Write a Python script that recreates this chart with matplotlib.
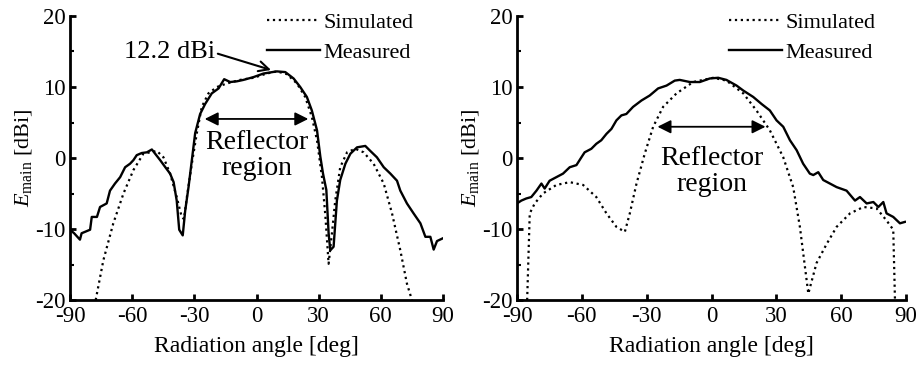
import matplotlib
matplotlib.use("Agg")
import matplotlib.pyplot as plt
import numpy as np

plt.rcParams['font.family'] = ['Liberation Serif', 'DejaVu Serif']
plt.rcParams['mathtext.fontset'] = 'custom'
plt.rcParams['mathtext.rm'] = 'Liberation Serif'
plt.rcParams['mathtext.it'] = 'Liberation Serif:italic'
plt.rcParams['axes.unicode_minus'] = False

# left panel, measured
l_meas_x = [-90, -88, -85.2, -84.4, -80.3, -79.5, -77, -75.5, -72.3, -70.7, -68.3, -65.8, -63.4,
            -61, -59.4, -57.8, -55.4, -52.9, -50.5, -48.9, -46.5, -44, -41.7, -40, -38.5, -37.3,
            -35.6, -34.4, -32.8, -31.2, -29.6, -27.2, -24.8, -21.6, -18.3, -15.6, -12.7, -9.5,
            -6.3, -1.4, 3.4, 9.8, 13.9, 17.9, 21.1, 24.3, 26.7, 29.2, 30.8, 32.1, 33.7, 34.8,
            35.6, 37.2, 38.8, 40.4, 42.9, 45.3, 48.5, 52.5, 54.9, 58.1, 61.4, 64.6, 67.8, 69.4,
            72.6, 75.8, 79.1, 81.5, 83.9, 85.5, 87.1, 90]
l_meas_y = [-10.1, -10.6, -11.5, -10.6, -10.1, -8.3, -8.3, -6.9, -6.4, -4.6, -3.6, -2.7, -1.3,
            -0.8, -0.3, 0.4, 0.7, 0.8, 1.2, 0.6, -0.3, -1.3, -2.2, -3.4, -6.0, -10.1,
            -10.9, -7.4, -4.1, -0.3, 3.5, 6.2, 7.6, 9.1, 9.8, 11.1, 10.7, 10.8,
            11.0, 11.4, 11.9, 12.2, 12.1, 11.2, 10.0, 8.6, 6.7, 3.9, 0.2, -2.2, -4.5, -10.6,
            -13.0, -12.5, -6.0, -3.1, -0.8, 0.6, 1.5, 1.7, 1.0, 0.1, -1.3, -2.2, -3.2, -4.6,
            -6.4, -7.8, -9.2, -11.1, -11.1, -12.9, -11.7, -11.3]

# left panel, simulated
l_sim_x = [-77.6, -73.9, -69.1, -64.2, -59.4, -54.6, -48.1, -44.9, -41.7, -38.5, -36.1, -35.0,
           -33.6, -31.2, -28.8, -26.4, -23.2, -19.1, -14.3, -7.9, -1.4, 5.0, 9.8, 14.7, 19.5,
           23.5, 26.7, 29.2, 31.6, 33.2, 34.8, 36.4, 38.0, 40.4, 43.7, 47.7, 51.7, 56.5, 61.4,
           65.4, 69.4, 72.6, 75.0]
l_sim_y = [-20, -14.4, -9.2, -5.0, -1.7, 0.6, 1.0, 0.1, -2.2, -5.5, -8.3, -8.6,
           -5.5, -0.8, 3.5, 7.2, 9.1, 10.0, 10.5, 11.0, 11.3, 11.9, 12.2, 11.8, 10.5,
           8.6, 5.8, 2.5, -2.7, -8.0, -14.9, -10.6, -6.0, -1.3, 0.8, 1.3, 0.8, -0.8, -3.6,
           -7.8, -13.0, -17.7, -20]

# right panel, measured
r_meas_x = [-90, -88, -85.7, -83.4, -81.0, -78.7, -77.2, -74.9, -71.8, -68.7, -65.6, -62.5,
            -60.2, -58.7, -55.6, -53.3, -51.0, -48.6, -46.3, -44.0, -41.7, -39.4, -36.3, -32.4,
            -28.6, -24.7, -20.8, -17.0, -14.7, -10.0, -5.4, -0.8, 3.1, 6.9, 11.6, 14.7, 19.3,
            23.2, 27.0, 30.1, 33.2, 36.3, 39.4, 42.4, 45.5, 47.1, 49.4, 51.7, 54.8, 57.9, 62.5,
            66.4, 68.7, 71.8, 74.9, 77.2, 79.5, 81.0, 84.1, 87.2, 89.5]
r_meas_y = [-6.4, -6.0, -5.7, -5.5, -4.6, -3.6, -4.3, -3.2, -2.7, -2.2, -1.3, -1.0,
            0.1, 0.8, 1.3, 2.0, 2.5, 3.4, 4.1, 5.3, 6.0, 6.2, 7.2, 8.1,
            8.8, 9.8, 10.2, 10.9, 11.0, 10.7, 10.7, 11.2, 11.3, 11.0, 10.2, 9.5, 8.6,
            7.6, 6.7, 5.3, 4.4, 2.5, 1.1, -0.8, -2.2, -2.4, -2.0, -3.1, -3.6, -4.1, -4.6,
            -6.0, -5.5, -6.4, -6.2, -6.9, -6.2, -7.8, -8.3, -9.2, -9.0]

# right panel, simulated
r_sim_x = [-85.3, -84.1, -81.8, -78.0, -71.8, -65.6, -59.4, -53.3, -48.6, -44.0, -40.1, -37.8,
           -34.7, -30.9, -27.0, -22.4, -16.2, -8.5, 0.8, 6.9, 14.7, 20.8, 27.0, 33.2, 37.8,
           40.9, 44.8, 48.6, 53.3, 57.9, 64.1, 70.3, 76.4, 81.0, 84.1, 84.9]
r_sim_y = [-20, -7.8, -6.4, -5.0, -3.8, -3.4, -3.8, -5.5, -7.8, -9.7, -10.4, -7.8,
           -3.6, 0.6, 4.4, 7.2, 9.1, 10.7, 11.3, 10.9, 9.1, 6.7, 3.9, 0.1, -4.1,
           -9.7, -19.1, -14.8, -12.1, -9.7, -7.8, -6.9, -7.1, -8.8, -10.1, -20]

fig = plt.figure(figsize=(9.21, 3.65), dpi=100)
ax1 = fig.add_axes([70 / 921, 1 - 300 / 365, 373 / 921, 284 / 365])
ax2 = fig.add_axes([517 / 921, 1 - 300 / 365, 389 / 921, 284 / 365])

panels = [(ax1, l_sim_x, l_sim_y, l_meas_x, l_meas_y, 5.5, 0.3),
          (ax2, r_sim_x, r_sim_y, r_meas_x, r_meas_y, 4.4, -1.9)]

for ax, sx, sy, mx, my, arr_y, txt_y in panels:
    ax.plot(sx, sy, color='black', linestyle=':', linewidth=1.6, label='Simulated')
    ax.plot(mx, my, color='black', linestyle='-', linewidth=1.7, label='Measured')
    ax.set_xlim(-90, 90)
    ax.set_ylim(-20, 20)
    ax.set_xticks(np.arange(-90, 91, 30))
    ax.set_yticks(np.arange(-20, 21, 10))
    ax.set_yticks(np.arange(-15, 20, 10), minor=True)
    ax.spines['top'].set_visible(False)
    ax.spines['right'].set_visible(False)
    ax.spines['left'].set_linewidth(2)
    ax.spines['bottom'].set_linewidth(2)
    ax.tick_params(which='major', direction='in', length=4, width=2, labelsize=16.5, pad=3)
    ax.tick_params(axis='x', which='major', pad=4)
    ax.tick_params(which='minor', direction='in', length=3, width=1.5)
    ax.set_xlabel('Radiation angle [deg]', fontsize=17, labelpad=7)
    ax.set_ylabel(r'$E_{\rm main}$ [dBi]', fontsize=16, labelpad=1)
    ax.annotate('', xy=(-25, arr_y), xytext=(25, arr_y),
                arrowprops=dict(arrowstyle='<|-|>', color='black', lw=1.3, mutation_scale=20,
                                shrinkA=0, shrinkB=0))
    ax.text(0, txt_y, 'Reflector\nregion', ha='center', va='center', fontsize=20, linespacing=1.05)
    ax.legend(loc='upper right', frameon=False, fontsize=16, handlelength=2.4,
              handletextpad=0.15, labelspacing=0.45, borderaxespad=0, bbox_to_anchor=(0.945, 1.045))

ax1.annotate('12.2 dBi', xy=(7, 12.4), xytext=(-42, 15), fontsize=19, ha='center', va='center',
             arrowprops=dict(arrowstyle='->', color='black', lw=1.5, mutation_scale=18,
                             shrinkA=0, shrinkB=0, relpos=(1.03, 0.4)))

fig.savefig('out.png', dpi=100)
